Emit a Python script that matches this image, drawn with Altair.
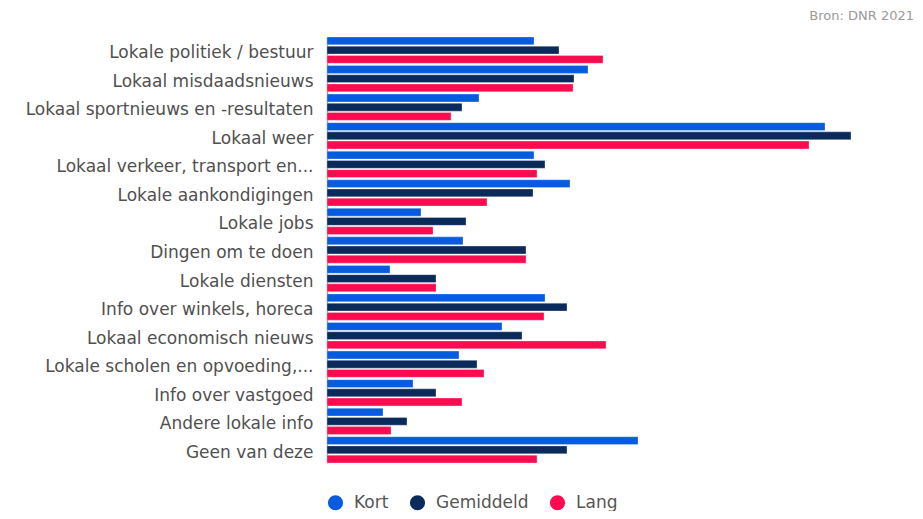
import altair as alt
import pandas as pd

categories = [
    "Lokale politiek / bestuur",
    "Lokaal misdaadsnieuws",
    "Lokaal sportnieuws en -resultaten",
    "Lokaal weer",
    "Lokaal verkeer, transport en...",
    "Lokale aankondigingen",
    "Lokale jobs",
    "Dingen om te doen",
    "Lokale diensten",
    "Info over winkels, horeca",
    "Lokaal economisch nieuws",
    "Lokale scholen en opvoeding,...",
    "Info over vastgoed",
    "Andere lokale info",
    "Geen van deze",
]
series = ["Kort", "Gemiddeld", "Lang"]
kort = [20.7, 26.1, 15.2, 49.8, 20.7, 24.3, 9.4, 13.6, 6.3, 21.8, 17.5, 13.2, 8.6, 5.6, 31.1]
gemiddeld = [23.2, 24.7, 13.5, 52.4, 21.8, 20.6, 13.9, 19.9, 10.9, 24.0, 19.5, 15.0, 10.9, 8.0, 24.0]
lang = [27.6, 24.6, 12.4, 48.2, 21.0, 16.0, 10.6, 19.9, 10.9, 21.7, 27.9, 15.7, 13.5, 6.4, 21.0]
colors = ["#065be0", "#0b2a5c", "#fc0b4e"]

rows = []
for i, c in enumerate(categories):
    for s, vals in zip(series, [kort, gemiddeld, lang]):
        rows.append({"categorie": c, "reeks": s, "waarde": vals[i]})
df = pd.DataFrame(rows)

FONT = "DejaVu Sans"

chart = alt.Chart(df).mark_bar(
    cornerRadius=0, stroke="white", strokeWidth=0.5, strokeOpacity=0.6
).encode(
    y=alt.Y(
        "categorie:N",
        sort=categories,
        scale=alt.Scale(paddingInner=0.08, paddingOuter=0.0),
        axis=alt.Axis(
            title=None,
            labelFont=FONT,
            labelFontSize=17,
            labelColor="#505050",
            labelPadding=14,
            labelOffset=3,
            ticks=False,
            domain=True,
            domainColor="#999999",
            domainWidth=1.5,
            labelLimit=400,
        ),
    ),
    yOffset=alt.YOffset("reeks:N", sort=series, scale=alt.Scale(paddingInner=0.15)),
    x=alt.X(
        "waarde:Q",
        scale=alt.Scale(domain=[0, 58.5], nice=False, zero=True),
        axis=None,
    ),
    color=alt.Color(
        "reeks:N",
        sort=series,
        scale=alt.Scale(domain=series, range=colors),
        legend=alt.Legend(
            title=None,
            orient="none",
            legendX=0,
            legendY=457,
            direction="horizontal",
            symbolType="circle",
            symbolSize=230,
            symbolStrokeWidth=0,
            labelFont=FONT,
            labelFontSize=17,
            labelColor="#555555",
            labelOffset=10,
            columnPadding=20,
        ),
    ),
).properties(
    width=585,
    height=426,
    title=alt.TitleParams(
        "Bron: DNR 2021",
        anchor="end",
        orient="top",
        font=FONT,
        fontSize=13,
        fontWeight="normal",
        color="#9a9a9a",
        offset=14,
        dx=2,
    ),
    padding={"left": 319, "top": 29, "right": 3, "bottom": 48},
    autosize=alt.AutoSizeParams(type="none"),
).configure_view(stroke=None)

chart.save("out.html", embed_options={"renderer": "svg", "actions": False})
